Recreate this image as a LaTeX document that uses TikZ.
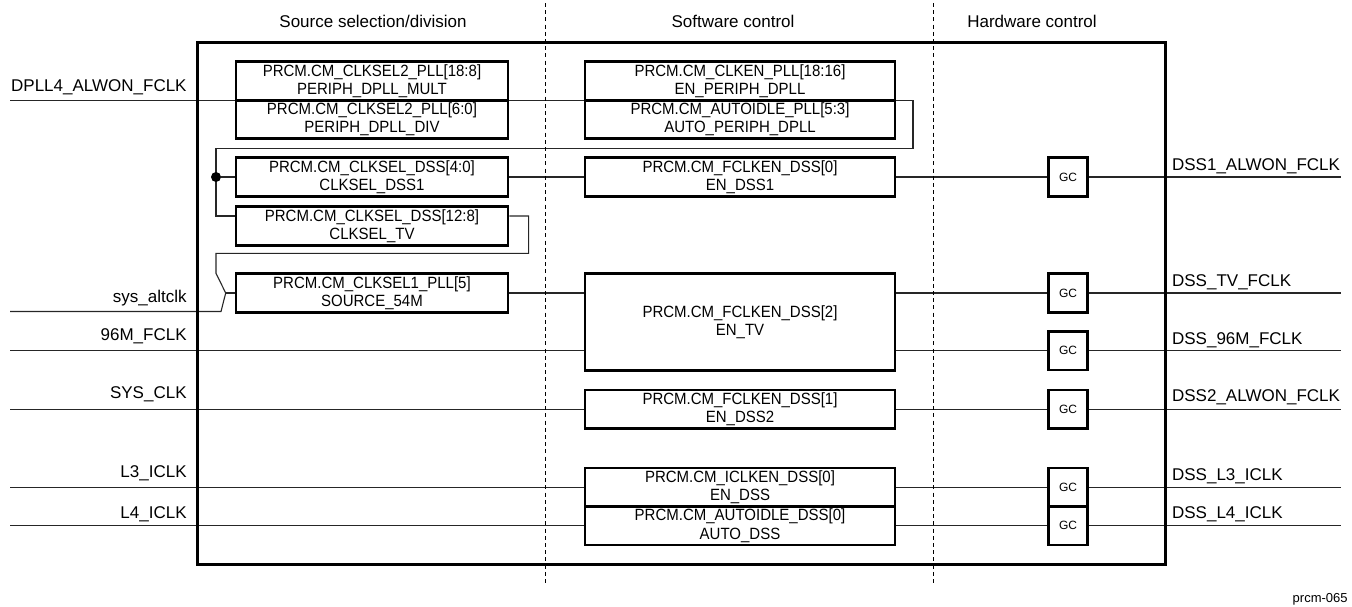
\documentclass[tikz,border=0pt]{standalone}
\usepackage{fontspec}
\setmainfont{Liberation Sans}
\newfontfamily\boxfont[FakeStretch=0.92]{Liberation Sans}
\pgfdeclarelayer{bg}
\pgfsetlayers{bg,main}
\tikzset{
  reg/.style={draw, line width=1.4pt, fill=white, inner sep=0pt, align=center,
    minimum height=19.25pt, font=\boxfont\fontsize{8.15}{9.15}\selectfont},
  regA/.style={reg, minimum width=136pt},
  regB/.style={reg, minimum width=155pt},
  gcbox/.style={draw, line width=1.4pt, fill=white, inner sep=0pt,
    minimum width=19.5pt, minimum height=19.25pt, font=\fontsize{6}{7}\selectfont},
  lbl/.style={inner sep=0pt, font=\fontsize{8.5}{10}\selectfont},
  wire/.style={line width=0.55pt, draw=black!85},
  sepline/.style={line width=0.5pt, dash pattern=on 2pt off 1.6pt},
  framebox/.style={line width=1.7pt},
  junction/.style={circle, fill=black, inner sep=0pt, minimum size=5pt},
}
\begin{document}
\begin{tikzpicture}[x=0.5pt,y=-0.5pt]
\useasboundingbox (0,0) rectangle (1352,606);

% column headers
\node[lbl, anchor=base] (h1) at (373,27.3) {Source selection/division};
\node[lbl, anchor=base] (h2) at (733,27.3) {Software control};
\node[lbl, anchor=base] (h3) at (1032,27.3) {Hardware control};

% separators and frame
\draw[sepline] (545.5,3) -- (545.5,585);
\draw[sepline] (933,3) -- (933,585);
\draw[framebox] (197.5,42.3) rectangle (1165.5,564.3);

% source selection registers
\node[regA] (A1) at (372,81) {PRCM.CM\_CLKSEL2\_PLL[18:8]\\PERIPH\_DPLL\_MULT};
\node[regA] (A2) at (372,119.5) {PRCM.CM\_CLKSEL2\_PLL[6:0]\\PERIPH\_DPLL\_DIV};
\node[regA] (A3) at (372,177) {PRCM.CM\_CLKSEL\_DSS[4:0]\\CLKSEL\_DSS1};
\node[regA] (A4) at (372,226) {PRCM.CM\_CLKSEL\_DSS[12:8]\\CLKSEL\_TV};
\node[regA] (A5) at (372,293) {PRCM.CM\_CLKSEL1\_PLL[5]\\SOURCE\_54M};

% software control registers
\node[regB] (B1) at (740,81) {PRCM.CM\_CLKEN\_PLL[18:16]\\EN\_PERIPH\_DPLL};
\node[regB] (B2) at (740,119.5) {PRCM.CM\_AUTOIDLE\_PLL[5:3]\\AUTO\_PERIPH\_DPLL};
\node[regB] (B3) at (740,177) {PRCM.CM\_FCLKEN\_DSS[0]\\EN\_DSS1};
\node[regB, minimum height=48.7pt] (B4) at (740,322) {PRCM.CM\_FCLKEN\_DSS[2]\\EN\_TV};
\node[regB] (B5) at (740,409.2) {PRCM.CM\_FCLKEN\_DSS[1]\\EN\_DSS2};
\node[regB] (B6) at (740,487.2) {PRCM.CM\_ICLKEN\_DSS[0]\\EN\_DSS};
\node[regB] (B7) at (740,525.7) {PRCM.CM\_AUTOIDLE\_DSS[0]\\AUTO\_DSS};

% gate cells
\node[gcbox] (G1) at (1068,177) {GC};
\node[gcbox] (G2) at (1068,293) {GC};
\node[gcbox] (G3) at (1068,350.7) {GC};
\node[gcbox] (G4) at (1068,409.2) {GC};
\node[gcbox] (G5) at (1068,487.2) {GC};
\node[gcbox] (G6) at (1068,525.7) {GC};

% input labels
\node[lbl, anchor=base east] (lDP) at (187,91.7) {DPLL4\_ALWON\_FCLK};
\node[lbl, anchor=base east] (lSA) at (187,302) {sys\_altclk};
\node[lbl, anchor=base east] (l96) at (187,340.7) {96M\_FCLK};
\node[lbl, anchor=base east] (lSC) at (187,398.3) {SYS\_CLK};
\node[lbl, anchor=base east] (lL3) at (187,477.3) {L3\_ICLK};
\node[lbl, anchor=base east] (lL4) at (187,518.3) {L4\_ICLK};

% output labels
\node[lbl, anchor=base west] (o1) at (1171.7,170.3) {DSS1\_ALWON\_FCLK};
\node[lbl, anchor=base west] (o2) at (1171.7,286) {DSS\_TV\_FCLK};
\node[lbl, anchor=base west] (o3) at (1171.7,344) {DSS\_96M\_FCLK};
\node[lbl, anchor=base west] (o4) at (1171.7,401.3) {DSS2\_ALWON\_FCLK};
\node[lbl, anchor=base west] (o5) at (1171.7,480) {DSS\_L3\_ICLK};
\node[lbl, anchor=base west] (o6) at (1171.7,518.3) {DSS\_L4\_ICLK};

\node[anchor=base east, inner sep=0pt, font=\fontsize{6.5}{8}\selectfont] (fig) at (1348,602.5) {prcm-065};

% coordinates
\coordinate (inDP) at (10,100.25);
\coordinate (turnR) at (913,100.25);
\coordinate (loopL) at (216,148.3);
\coordinate (A4in) at ([yshift=5pt]A4.west);
\coordinate (A4out) at ([yshift=5pt]A4.east);
\coordinate (tvR) at (528.6,253.3);
\coordinate (tvL) at (216,253.3);
\coordinate (muxT) at (216,273.3);
\coordinate (mux) at (225.7,293);
\coordinate (muxB) at (221,311.5);
\coordinate (inSA) at (10,311.5);
\coordinate (in96) at (10,350.7);
\coordinate (inSC) at (10,409.2);
\coordinate (inL3) at (10,487.2);
\coordinate (inL4) at (10,525.7);
\coordinate (outx) at (1341,0);
\node[junction] (J) at (216,177) {};

\begin{pgfonlayer}{bg}
% DPLL4 feed and loop
\draw[wire] (inDP) -- (turnR) |- (loopL) |- (A4in);
\draw[wire] (J) -- (J -| A3.west);
% CLKSEL_TV feedback into 54M mux
\draw[wire] (A4out) -| (tvR) -- (tvL) -- (muxT) -- (mux);
\draw[wire] (inSA) -- (muxB) -- (mux);
\draw[wire] (mux) -- (mux -| A5.west);
% source to software control
\draw[wire] (A3.east) -- (B3.west);
\draw[wire] (A5.east) -- (A5.east -| B4.west);
\draw[wire] (in96) -- (in96 -| B4.west);
\draw[wire] (inSC) -- (B5.west);
\draw[wire] (inL3) -- (B6.west);
\draw[wire] (inL4) -- (B7.west);
% software to gate cells
\draw[wire] (B3.east) -- (G1.west);
\draw[wire] (G2.west -| B4.east) -- (G2.west);
\draw[wire] (G3.west -| B4.east) -- (G3.west);
\draw[wire] (B5.east) -- (G4.west);
\draw[wire] (B6.east) -- (G5.west);
\draw[wire] (B7.east) -- (G6.west);
% outputs
\draw[wire] (G1.east) -- (G1.east -| outx);
\draw[wire] (G2.east) -- (G2.east -| outx);
\draw[wire] (G3.east) -- (G3.east -| outx);
\draw[wire] (G4.east) -- (G4.east -| outx);
\draw[wire] (G5.east) -- (G5.east -| outx);
\draw[wire] (G6.east) -- (G6.east -| outx);
\end{pgfonlayer}
\end{tikzpicture}
\end{document}
